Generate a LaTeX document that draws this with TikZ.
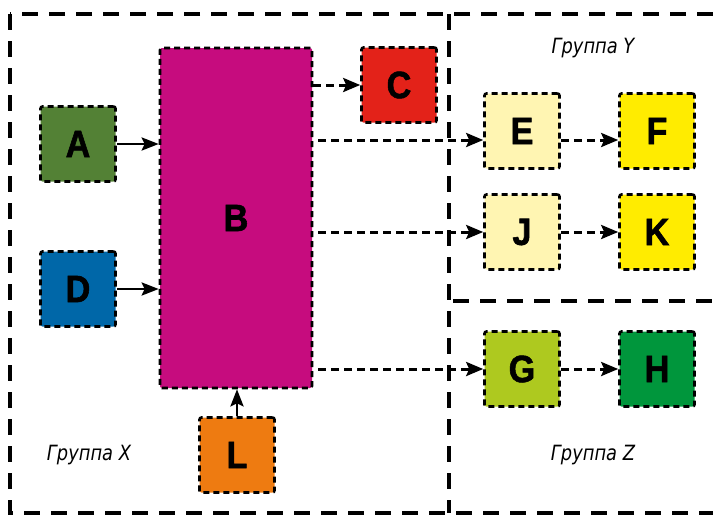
\documentclass[tikz,border=0pt]{standalone}
\usepackage{fontspec}
\setmainfont{Liberation Sans}
\newfontfamily\letterfont[FakeStretch=0.9,FakeBold=1.5]{Liberation Sans}
\newfontfamily\grpfont[FakeStretch=0.85]{DejaVu Sans}
\usetikzlibrary{arrows.meta}
\definecolor{cA}{HTML}{538135}
\definecolor{cB}{HTML}{C60C7E}
\definecolor{cC}{HTML}{E32219}
\definecolor{cD}{HTML}{0067A8}
\definecolor{cL}{HTML}{EE7B11}
\definecolor{cE}{HTML}{FFF5B2}
\definecolor{cF}{HTML}{FFEC00}
\definecolor{cG}{HTML}{AEC91F}
\definecolor{cH}{HTML}{00963C}
\tikzset{
  box/.style={draw=black, line width=2.6pt, dash pattern=on 6pt off 4pt, rounded corners=2pt,
    minimum width=75pt, minimum height=75pt, inner sep=0pt,
    font=\letterfont\fontsize{38}{38}\selectfont\bfseries},
  frame/.style={line width=4.5pt, dash pattern=on 16pt off 11pt},
  sarr/.style={line width=2.8pt, -{Stealth[length=17pt,width=13pt,inset=3pt]}},
  darr/.style={line width=3pt, dash pattern=on 8pt off 5pt, -{Stealth[length=17pt,width=14pt,inset=3pt]}},
  grp/.style={font=\grpfont\itshape\fontsize{21}{21}\selectfont}
}
\begin{document}
\begin{tikzpicture}[x=1pt,y=-1pt]
\useasboundingbox (0,0) rectangle (713,515);
\clip (0,0) rectangle (713,515);
% frames
\draw[frame] (10,14) rectangle (740,513);
\draw[frame] (449,14) -- (449,513);
\draw[frame] (453,301) -- (740,301);
% nodes
\node[box, fill=cA] (A) at (78,144) {A};
\node[box, fill=cD] (D) at (78,289) {D};
\node[box, fill=cB, minimum width=152pt, minimum height=340pt] (B) at (236,218) {B};
\node[box, fill=cC] (C) at (399,85) {C};
\node[box, fill=cL] (L) at (237,455) {L};
\node[box, fill=cE] (E) at (522,131) {E};
\node[box, fill=cF] (F) at (657,131) {F};
\node[box, fill=cE] (J) at (522,232) {J};
\node[box, fill=cF] (K) at (657,232) {K};
\node[box, fill=cG] (G) at (522,369) {G};
\node[box, fill=cH] (H) at (657,369) {H};
% labels
\node[grp] (gx) at (89,455) {Группа X};
\node[grp] (gy) at (593,48) {Группа Y};
\node[grp] (gz) at (593,455) {Группа Z};
% connectors
\draw[sarr] (A.east) -- (A.east -| B.west);
\draw[sarr] (D.east) -- (D.east -| B.west);
\draw[sarr] (L.north) -- (L.north |- B.south);
\draw[darr] (C.west -| B.east) -- (C.west);
\coordinate (ea) at ([yshift=-9pt]E.west);
\draw[darr] ([xshift=5pt]B.east |- ea) -- (ea);
\draw[darr] (E.east |- ea) -- (F.west |- ea);
\draw[darr] ([xshift=5pt]B.east |- J.west) -- (J.west);
\draw[darr] (J.east) -- (K.west);
\draw[darr] ([xshift=5pt]B.east |- G.west) -- (G.west);
\draw[darr] (G.east) -- (H.west);
\end{tikzpicture}
\end{document}
